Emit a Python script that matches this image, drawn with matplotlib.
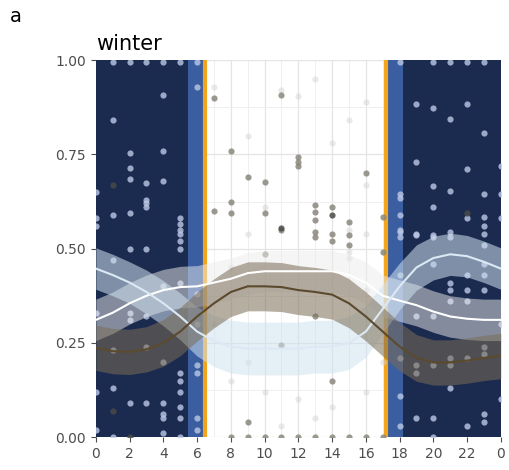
import numpy as np
import matplotlib.pyplot as plt

# hours of the day and smoothed activity curves
hours = list(range(25))
white_fit = [0.311, 0.33, 0.355, 0.375, 0.39, 0.398, 0.40, 0.41, 0.42, 0.435, 0.44, 0.44, 0.44,
             0.44, 0.44, 0.43, 0.41, 0.375, 0.362, 0.35, 0.333, 0.32, 0.314, 0.311, 0.311]
white_se = [0.055] * 25
blue_fit = [0.447, 0.43, 0.41, 0.385, 0.355, 0.32, 0.28, 0.255, 0.24, 0.235, 0.235, 0.235, 0.235,
            0.24, 0.24, 0.25, 0.28, 0.34, 0.40, 0.45, 0.475, 0.485, 0.48, 0.465, 0.447]
blue_se = [0.055, 0.055, 0.055, 0.058, 0.06, 0.062, 0.065, 0.068, 0.07, 0.07, 0.07, 0.07, 0.07,
           0.07, 0.07, 0.07, 0.068, 0.065, 0.062, 0.06, 0.058, 0.056, 0.055, 0.055, 0.055]
brown_fit = [0.237, 0.228, 0.226, 0.233, 0.25, 0.28, 0.32, 0.355, 0.385, 0.40, 0.40, 0.398, 0.39,
             0.385, 0.378, 0.355, 0.32, 0.28, 0.24, 0.21, 0.198, 0.198, 0.203, 0.21, 0.215]
brown_se = [0.06, 0.06, 0.06, 0.06, 0.062, 0.064, 0.065, 0.065, 0.065, 0.065, 0.065, 0.065, 0.065,
            0.065, 0.065, 0.065, 0.065, 0.065, 0.064, 0.062, 0.06, 0.06, 0.06, 0.06, 0.06]

# light diel periods
night_end, sunrise, sunset, night_start = 5.45, 6.45, 17.2, 18.2

# observations
light_x = [1, 2, 3, 4, 5, 6, 18, 20, 21, 22, 23,
           6, 4, 1, 2, 4, 2, 2, 3, 4, 3, 3, 3, 1, 2, 5, 5, 5, 5, 0, 0, 0,
           19, 20, 22, 21, 23, 19, 22, 20, 21, 23, 20, 22, 23, 23, 18, 18, 18, 18, 19, 20, 24, 24, 24,
           5, 5, 2, 3, 1, 5, 4, 2, 2, 3, 0, 1, 3, 4, 5, 5, 6, 6, 0, 1, 2, 3, 4, 4, 5, 5, 5, 6, 6, 0, 1, 4, 4, 5, 6, 6,
           18, 18, 19, 20, 21, 21, 23, 23, 18, 20, 21, 21, 21, 22, 22, 22, 23, 23, 23, 19, 20, 18, 19, 19, 20,
           21, 21, 22, 23, 23, 18, 19, 20, 21, 22, 23, 23, 20, 18, 24, 24]
light_y = [0.995, 0.995, 0.995, 0.995, 0.995, 0.995, 0.995, 0.995, 0.995, 0.995, 0.995,
           0.93, 0.907, 0.84, 0.755, 0.76, 0.713, 0.686, 0.675, 0.68, 0.63, 0.62, 0.61, 0.59, 0.595,
           0.58, 0.565, 0.55, 0.54, 0.65, 0.58, 0.56,
           0.883, 0.872, 0.883, 0.843, 0.808, 0.73, 0.71, 0.665, 0.652, 0.646, 0.61, 0.58, 0.585, 0.56,
           0.645, 0.633, 0.59, 0.55, 0.535, 0.53, 0.645, 0.58, 0.72,
           0.52, 0.50, 0.50, 0.50, 0.47, 0.41, 0.40, 0.33, 0.31, 0.32, 0.33, 0.23, 0.24, 0.20, 0.17, 0.15,
           0.19, 0.17, 0.12, 0.13, 0.09, 0.09, 0.09, 0.06, 0.12, 0.08, 0.05, 0.05, 0.02, 0.02, 0.0, 0.01,
           0.05, 0.0, 0.38, 0.30,
           0.545, 0.53, 0.54, 0.535, 0.545, 0.53, 0.54, 0.51, 0.43, 0.46, 0.41, 0.39, 0.36, 0.43, 0.39,
           0.36, 0.46, 0.43, 0.39, 0.32, 0.32, 0.21, 0.19, 0.17, 0.19, 0.21, 0.19, 0.21, 0.24, 0.22,
           0.11, 0.05, 0.05, 0.13, 0.03, 0.06, 0.04, 0.0, 0.03, 0.30, 0.10]
gray_x = [7, 11, 8, 12, 12, 12, 9, 10, 8, 7, 8, 10, 13, 13, 13, 14, 15, 13, 14, 15, 17, 16, 10, 11,
          9, 11, 13, 14, 15, 17, 14, 13, 12, 13, 14, 15, 10, 11, 8, 9, 16, 17]
gray_y = [0.90, 0.907, 0.758, 0.742, 0.73, 0.718, 0.69, 0.678, 0.625, 0.60, 0.595, 0.595, 0.617,
          0.596, 0.577, 0.61, 0.57, 0.545, 0.54, 0.535, 0.585, 0.70, 0.485, 0.55, 0.04, 0.245, 0.53,
          0.52, 0.51, 0.49, 0.15, 0.32, 0.0, 0.0, 0.0, 0.0, 0.0, 0.0, 0.0, 0.0, 0.0, 0.0]
dark_x = [14, 11, 1, 22, 1, 2]
dark_y = [0.588, 0.556, 0.67, 0.595, 0.07, 0.0]
faint_x = [7, 9, 12, 10, 9, 11, 13, 15, 14, 16, 16, 15, 16, 15, 15, 16, 8, 9, 10, 12, 14, 16, 8, 7,
           17, 13, 11]
faint_y = [0.93, 0.80, 0.905, 0.61, 0.54, 0.92, 0.95, 0.84, 0.78, 0.89, 0.67, 0.55, 0.54, 0.49,
           0.475, 0.39, 0.45, 0.2, 0.12, 0.1, 0.08, 0.12, 0.15, 0.3, 0.2, 0.05, 0.03]

navy = '#1b2b4f'
twilight = '#3b5ea0'
orange = '#f2a41c'

fig = plt.figure(figsize=(5.1, 4.7), dpi=100)
ax = fig.add_axes([0.188, 0.070, 0.794, 0.802])

# grid (only visible in daylight, the night blocks cover it)
ax.set_xticks(np.arange(0, 25, 2))
ax.set_xticks(np.arange(1, 25, 2), minor=True)
ax.set_yticks([0, 0.25, 0.5, 0.75, 1.0])
ax.set_yticks([0.125, 0.375, 0.625, 0.875], minor=True)
ax.grid(which='major', color='#e4e4e4', lw=0.9, zorder=0)
ax.grid(which='minor', color='#efefef', lw=0.7, zorder=0)
ax.set_axisbelow(True)

# light periods
ax.axvspan(0, night_end, color=navy, lw=0, zorder=1)
ax.axvspan(night_end, sunrise, color=twilight, lw=0, zorder=1)
ax.axvspan(sunset, night_start, color=twilight, lw=0, zorder=1)
ax.axvspan(night_start, 24, color=navy, lw=0, zorder=1)
ax.axvline(sunrise, color=orange, lw=3, zorder=1.5)
ax.axvline(sunset, color=orange, lw=3, zorder=1.5)

# points
ax.scatter(faint_x, faint_y, s=20, color='#d4d4d4', alpha=0.5, lw=0, zorder=2)
ax.scatter(light_x, light_y, s=20, color='#bcc8e6', alpha=0.8, lw=0, zorder=2)
ax.scatter(gray_x, gray_y, s=20, color='#8a877c', alpha=0.85, lw=0, zorder=2)
ax.scatter(dark_x, dark_y, s=20, color='#4a4a46', alpha=0.85, lw=0, zorder=2)

# smoothers with confidence ribbons
x = np.array(hours)
for fit, se, fill, a, line in [(white_fit, white_se, '#ececec', 0.5, 'white'),
                               (blue_fit, blue_se, '#d0e2f0', 0.55, '#dce9f4'),
                               (brown_fit, brown_se, '#7a6c55', 0.55, '#5c4a2e')]:
    fit = np.array(fit)
    se = np.array(se)
    ax.fill_between(x, fit - se, fit + se, color=fill, alpha=a, lw=0, zorder=3)
    ax.plot(x, fit, color=line, lw=1.5, zorder=4)

ax.set_xlim(0, 24)
ax.set_ylim(0, 1)
ax.set_xticklabels(['0', '2', '4', '6', '8', '10', '12', '14', '16', '18', '20', '22', '0'])
ax.set_yticklabels(['0.00', '0.25', '0.50', '0.75', '1.00'])
ax.tick_params(which='major', colors='#4d4d4d', labelsize=10, length=3.5, width=0.8)
ax.tick_params(which='minor', length=0)
for s in ax.spines.values():
    s.set_visible(False)

ax.set_title('winter', loc='left', fontsize=15, pad=7)
fig.text(0.02, 0.965, 'a', fontsize=14, va='center')

fig.savefig('out.png', dpi=100)
